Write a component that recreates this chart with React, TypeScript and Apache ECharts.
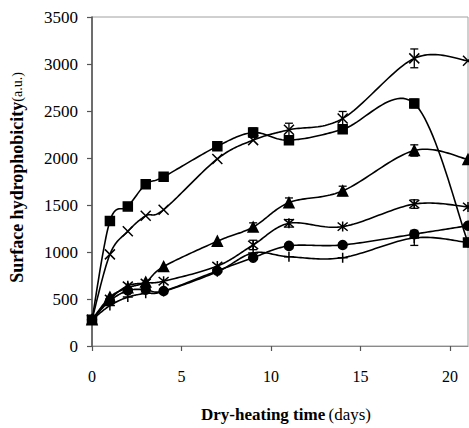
import React, { useEffect, useRef } from "react";
import * as echarts from "echarts";

// Sampling days
const days = [0, 1, 2, 3, 4, 7, 9, 11, 14, 18, 21];

// Surface hydrophobicity (a.u.) per series
const squareVals = [280, 1330, 1485, 1720, 1800, 2125, 2270, 2190, 2305, 2580, 1100];
const crossVals = [280, 975, 1220, 1385, 1450, 1990, 2190, 2300, 2420, 3060, 3035];
const triangleVals = [280, 520, 620, 680, 845, 1115, 1265, 1525, 1650, 2080, 1985];
const starVals = [280, 500, 640, 670, 690, 850, 1075, 1305, 1270, 1510, 1480];
const circleVals = [280, 480, 590, 600, 585, 800, 940, 1065, 1075, 1190, 1280];
const plusVals = [280, 430, 520, 560, 580, 790, 990, 950, 940, 1150, 1100];

// Standard deviations (0 = no bar drawn)
const squareErr = [0, 0, 0, 0, 0, 0, 50, 45, 40, 45, 0];
const crossErr = [0, 0, 0, 0, 0, 0, 0, 70, 75, 100, 0];
const triangleErr = [0, 0, 0, 0, 0, 0, 45, 50, 50, 60, 0];
const starErr = [0, 0, 0, 0, 0, 0, 50, 40, 0, 45, 0];
const circleErr = [0, 0, 0, 0, 0, 0, 0, 0, 0, 0, 0];
const plusErr = [0, 0, 0, 0, 0, 0, 0, 0, 0, 80, 0];

const xTicks = [0, 5, 10, 15, 20];

const FONT = "Liberation Serif";

const SYM_CROSS = "path://M0,0L10,10M10,0L0,10";
const SYM_PLUS = "path://M5,0L5,10M0,5L10,5";
const SYM_STAR = "path://M0,1L10,11M10,1L0,11M5,0L5,12";

type SeriesDef = {
  name: string;
  values: number[];
  err: number[];
  symbol: string;
  size: number;
};

const seriesDefs: SeriesDef[] = [
  { name: "square", values: squareVals, err: squareErr, symbol: "rect", size: 9 },
  { name: "cross", values: crossVals, err: crossErr, symbol: SYM_CROSS, size: 10 },
  { name: "triangle", values: triangleVals, err: triangleErr, symbol: "triangle", size: 10 },
  { name: "star", values: starVals, err: starErr, symbol: SYM_STAR, size: 10 },
  { name: "circle", values: circleVals, err: circleErr, symbol: "circle", size: 9 },
  { name: "plus", values: plusVals, err: plusErr, symbol: SYM_PLUS, size: 10 },
];

// Cardinal (Catmull-Rom style) smoothing in pixel space, sampled into a polyline
function smoothPoints(pts: number[][]): number[][] {
  const out: number[][] = [];
  const n = pts.length;
  const steps = 24;
  for (let i = 0; i < n - 1; i++) {
    const p0 = pts[Math.max(i - 1, 0)];
    const p1 = pts[i];
    const p2 = pts[i + 1];
    const p3 = pts[Math.min(i + 2, n - 1)];
    const c1 = [p1[0] + (p2[0] - p0[0]) / 6, p1[1] + (p2[1] - p0[1]) / 6];
    const c2 = [p2[0] - (p3[0] - p1[0]) / 6, p2[1] - (p3[1] - p1[1]) / 6];
    for (let k = i === 0 ? 0 : 1; k <= steps; k++) {
      const t = k / steps;
      const u = 1 - t;
      const a = u * u * u;
      const b = 3 * u * u * t;
      const c = 3 * u * t * t;
      const d = t * t * t;
      out.push([
        a * p1[0] + b * c1[0] + c * c2[0] + d * p2[0],
        a * p1[1] + b * c1[1] + c * c2[1] + d * p2[1],
      ]);
    }
  }
  return out;
}

function errorBarRender(params: any, api: any) {
  const x = api.value(0);
  const y = api.value(1);
  const e = api.value(2);
  const top = api.coord([x, y + e]);
  const bot = api.coord([x, y - e]);
  const hw = 4;
  const style = { stroke: "#000", lineWidth: 1.3 };
  return {
    type: "group",
    children: [
      { type: "line", shape: { x1: top[0], y1: top[1], x2: bot[0], y2: bot[1] }, style },
      { type: "line", shape: { x1: top[0] - hw, y1: top[1], x2: top[0] + hw, y2: top[1] }, style },
      { type: "line", shape: { x1: bot[0] - hw, y1: bot[1], x2: bot[0] + hw, y2: bot[1] }, style },
    ],
  };
}

export default function App() {
  const ref = useRef<HTMLDivElement>(null);

  useEffect(() => {
    if (!ref.current) return;
    const chart = echarts.init(ref.current, null, { renderer: "svg" });

    const curveSeries = seriesDefs.map((s) => ({
      name: s.name + "-curve",
      type: "custom",
      encode: { x: 0, y: 1 },
      clip: false,
      data: days.map((d, i) => [d, s.values[i]]),
      renderItem: (params: any, api: any) => {
        if (params.dataIndex !== 0) return null;
        const pts = days.map((d, i) => api.coord([d, s.values[i]]));
        return {
          type: "polyline",
          shape: { points: smoothPoints(pts) },
          style: { stroke: "#000", lineWidth: 1.6, fill: "none" },
        };
      },
      z: 2,
    }));

    const markerSeries = seriesDefs.map((s) => ({
      name: s.name,
      type: "scatter",
      data: days.map((d, i) => [d, s.values[i]]),
      symbol: s.symbol,
      symbolSize: s.size,
      clip: false,
      itemStyle: { color: "#000", borderColor: "#000", borderWidth: 1.5, opacity: 1 },
      z: 3,
    }));

    const errSeries = seriesDefs.map((s) => ({
      name: s.name + "-err",
      type: "custom",
      renderItem: errorBarRender,
      encode: { x: 0, y: 1 },
      clip: false,
      data: days
        .map((d, i) => [d, s.values[i], s.err[i]])
        .filter((p) => p[2] > 0),
      z: 4,
    }));

    chart.setOption({
      animation: false,
      backgroundColor: "#fff",
      grid: {
        left: 89,
        right: 1,
        top: 17,
        bottom: 74,
        show: true,
        borderColor: "#a0a0a0",
        borderWidth: 1,
      },
      xAxis: {
        type: "value",
        min: 0,
        max: 21,
        interval: 5,
        name: "{b|Dry-heating time} {n|(days)}",
        nameLocation: "middle",
        nameGap: 60,
        nameTextStyle: {
          padding: [0, 0, 0, 12],
          rich: {
            b: { fontFamily: FONT, fontSize: 17, fontWeight: "bold", color: "#000" },
            n: { fontFamily: FONT, fontSize: 17, color: "#000" },
          },
        },
        axisLine: { show: true, onZero: false, lineStyle: { color: "#8a8a8a", width: 1.2 } },
        axisTick: {
          show: true,
          length: 5,
          customValues: xTicks,
          lineStyle: { color: "#555", width: 1.2 },
        },
        axisLabel: {
          customValues: xTicks,
          fontFamily: FONT,
          fontSize: 16,
          color: "#000",
          margin: 22,
          formatter: (v: number) => String(v),
        },
        splitLine: { show: false },
      },
      yAxis: {
        type: "value",
        min: 0,
        max: 3500,
        interval: 500,
        name: "{b|Surface hydrophobicity}{n|(a.u.)}",
        nameLocation: "middle",
        nameGap: 66,
        nameRotate: 90,
        nameTextStyle: {
          padding: [0, 0, 0, 8],
          rich: {
            b: { fontFamily: FONT, fontSize: 18, fontWeight: "bold", color: "#000" },
            n: { fontFamily: FONT, fontSize: 14, color: "#000" },
          },
        },
        axisLine: { show: true, onZero: false, lineStyle: { color: "#555", width: 1.6 } },
        axisTick: { show: true, length: 5, lineStyle: { color: "#555", width: 1.2 } },
        axisLabel: {
          fontFamily: FONT,
          fontSize: 17,
          color: "#000",
          margin: 14,
          formatter: (v: number) => String(v),
        },
        splitLine: { show: false },
      },
      series: [...curveSeries, ...markerSeries, ...errSeries],
    });

    return () => chart.dispose();
  }, []);

  return (
    <div
      ref={ref}
      style={{ position: "fixed", left: 0, top: 0, width: 469, height: 428 }}
    />
  );
}
